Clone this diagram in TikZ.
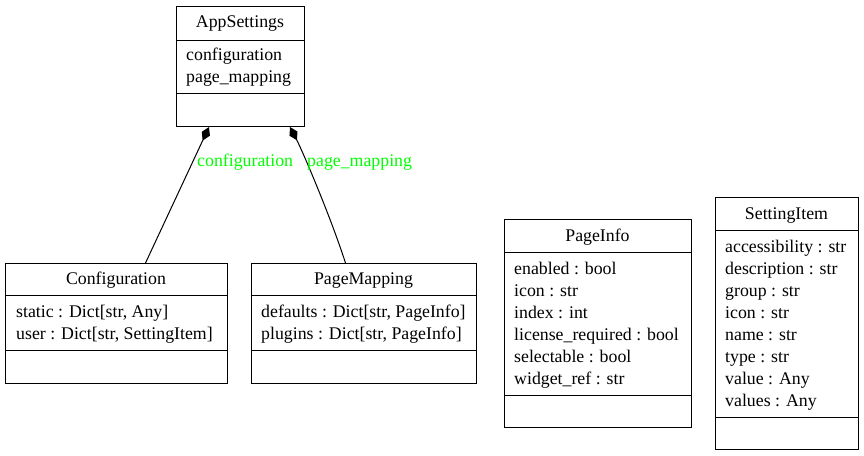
\documentclass[tikz,border=0pt]{standalone}
\usepackage{fontspec}
\setmainfont{Liberation Serif}
\usetikzlibrary{arrows.meta}
\begin{document}
\begin{tikzpicture}[x=1pt,y=-1pt,
  box/.style={draw=black, line width=1pt, rectangle, inner sep=0pt, anchor=north west},
  divider/.style={line width=1pt},
  txt/.style={font=\fontsize{17.8pt}{20pt}\selectfont, inner sep=0pt, text height=12.5pt, text depth=3.5pt},
  title/.style={txt, anchor=center},
  attr/.style={txt, anchor=west},
  lbl/.style={txt, text={rgb,255:red,0;green,255;blue,0}, anchor=west},
  comp/.style={line width=1pt, {Diamond[length=15pt,width=9pt]}-}
]
\useasboundingbox (0,0) rectangle (864,455);

% AppSettings
\node[box, minimum width=128pt, minimum height=120pt] (app) at (176,6) {};
\draw[divider] (176,40) -- (304,40);
\draw[divider] (176,93) -- (304,93);
\node[title] (appT) at (240,23) {AppSettings};
\node[attr] (appA1) at (186,56) {configuration};
\node[attr] (appA2) at (186,78) {page\_mapping};

% Configuration
\node[box, minimum width=222pt, minimum height=120pt] (conf) at (5,263) {};
\draw[divider] (5,295) -- (227,295);
\draw[divider] (5,350) -- (227,350);
\node[title] (confT) at (116,280) {Configuration};
\node[attr] (confA1) at (16,313) {static : Dict[str, Any]};
\node[attr] (confA2) at (16,335) {user : Dict[str, SettingItem]};

% PageMapping
\node[box, minimum width=225pt, minimum height=120pt] (pm) at (251,263) {};
\draw[divider] (251,295) -- (476,295);
\draw[divider] (251,350) -- (476,350);
\node[title] (pmT) at (363.5,280) {PageMapping};
\node[attr] (pmA1) at (261,313) {defaults : Dict[str, PageInfo]};
\node[attr] (pmA2) at (261,335) {plugins : Dict[str, PageInfo]};

% PageInfo
\node[box, minimum width=187pt, minimum height=208pt] (pi) at (504,219) {};
\draw[divider] (504,252) -- (691,252);
\draw[divider] (504,395) -- (691,395);
\node[title] (piT) at (597.5,237) {PageInfo};
\node[attr] (piA1) at (514,270) {enabled : bool};
\node[attr] (piA2) at (514,292) {icon : str};
\node[attr] (piA3) at (514,314) {index : int};
\node[attr] (piA4) at (514,336) {license\_required : bool};
\node[attr] (piA5) at (514,358) {selectable : bool};
\node[attr] (piA6) at (514,380) {widget\_ref : str};

% SettingItem
\node[box, minimum width=143pt, minimum height=252pt] (si) at (715,197) {};
\draw[divider] (715,230) -- (858,230);
\draw[divider] (715,417) -- (858,417);
\node[title] (siT) at (786.5,215) {SettingItem};
\node[attr] (siA1) at (725,248) {accessibility : str};
\node[attr] (siA2) at (725,270) {description : str};
\node[attr] (siA3) at (725,292) {group : str};
\node[attr] (siA4) at (725,314) {icon : str};
\node[attr] (siA5) at (725,336) {name : str};
\node[attr] (siA6) at (725,358) {type : str};
\node[attr] (siA7) at (725,380) {value : Any};
\node[attr] (siA8) at (725,402) {values : Any};

% connectors
\coordinate (appC) at ([xshift=33pt]app.south west);
\coordinate (appP) at ([xshift=-15pt]app.south east);
\coordinate (confTop) at ([xshift=29pt]conf.north);
\coordinate (pmTop) at ([xshift=-18.5pt]pm.north);
\draw[comp] (appC) -- (confTop);
\draw[comp] (appP) .. controls (302,150) and (330,215) .. (pmTop);
\node[lbl] (l1) at (197,162) {configuration};
\node[lbl] (l2) at (307,162) {page\_mapping};
\end{tikzpicture}
\end{document}
